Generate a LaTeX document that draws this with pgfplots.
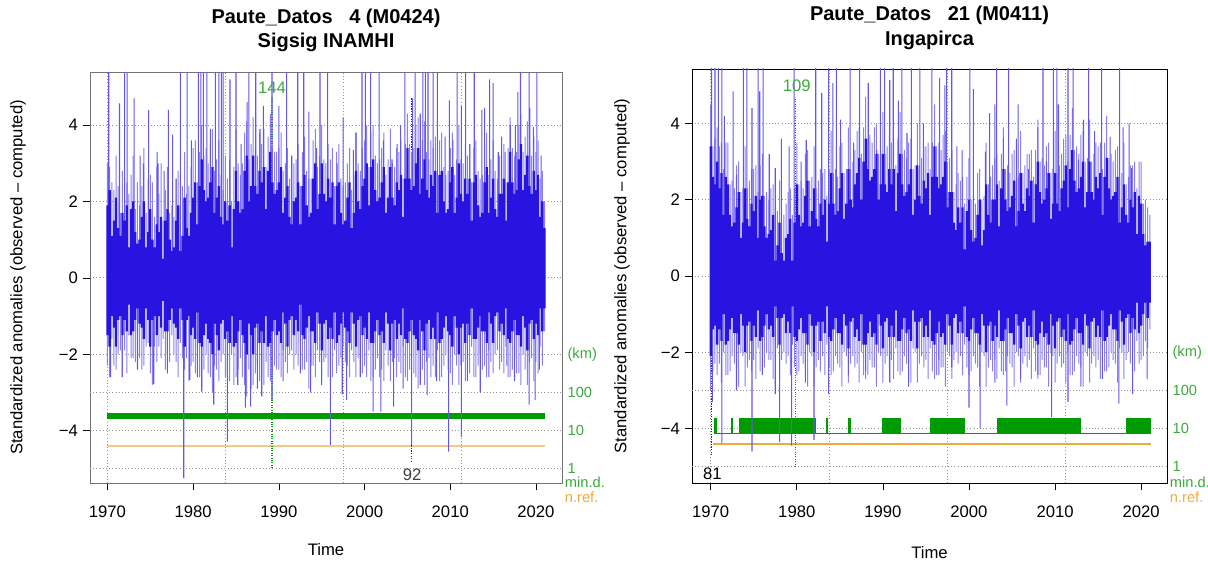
\documentclass[border=0pt]{standalone}
\usepackage{fontspec}
\setmainfont{Liberation Sans}
\usepackage{pgfplots}
\usepackage{pgfplotstable}
\pgfplotsset{compat=1.18}
\definecolor{core}{RGB}{40,20,225}
\definecolor{fringe}{RGB}{138,126,242}
\definecolor{spk}{RGB}{100,86,236}
\definecolor{grn}{RGB}{0,155,0}
\definecolor{grntxt}{RGB}{60,170,60}
\definecolor{orng}{RGB}{240,170,60}
\definecolor{orngL}{RGB}{246,200,135}

\pgfplotstableread{
x hi lo fhi flo
1970.00 1.9 -1.5 3.0 -2.3
1970.25 2.3 -1.8 2.9 -2.6
1970.50 1.1 -1.0 2.5 -1.6
1970.75 1.5 -1.3 2.3 -2.3
1971.00 2.1 -1.8 3.2 -2.4
1971.25 1.3 -1.1 2.4 -2.0
1971.50 1.1 -1.0 1.7 -1.9
1971.75 1.7 -1.5 2.8 -2.6
1972.00 1.5 -1.1 2.6 -1.9
1972.25 1.9 -1.4 2.5 -2.5
1972.50 0.8 -0.7 2.2 -1.5
1972.75 1.8 -1.5 2.7 -2.1
1973.00 2.0 -1.4 3.2 -2.1
1973.25 1.2 -1.1 1.8 -2.2
1973.50 0.9 -0.8 2.5 -1.4
1973.75 1.0 -1.2 1.9 -2.1
1974.00 1.6 -1.3 2.4 -2.4
1974.25 2.0 -1.6 3.4 -2.3
1974.50 0.8 -0.8 1.7 -1.8
1974.75 1.2 -1.1 2.6 -1.7
1975.00 1.8 -1.8 2.7 -2.5
1975.25 1.0 -1.1 2.5 -2.8
1975.50 0.8 -1.0 1.6 -1.8
1975.75 1.4 -1.5 2.9 -2.2
1976.00 1.2 -1.0 2.2 -1.8
1976.25 1.6 -1.3 3.0 -2.1
1976.50 0.5 -0.6 1.5 -1.6
1976.75 1.5 -1.4 2.3 -2.4
1977.00 1.8 -1.4 2.9 -2.0
1977.25 1.0 -1.1 1.7 -2.2
1977.50 0.7 -0.8 1.9 -1.5
1977.75 0.8 -1.2 1.6 -2.0
1978.00 1.5 -1.3 2.6 -2.2
1978.25 1.9 -1.6 2.8 -2.6
1978.50 0.7 -0.8 1.8 -1.7
1978.75 1.1 -1.1 2.4 -2.1
1979.00 2.1 -1.8 3.3 -2.4
1979.25 1.3 -1.1 2.2 -2.1
1979.50 1.1 -1.0 2.4 -2.7
1979.75 1.7 -1.5 2.9 -2.3
1980.00 2.1 -1.3 3.4 -2.2
1980.25 2.5 -1.6 3.6 -2.5
1980.50 1.4 -0.9 2.5 -1.8
1980.75 2.4 -1.7 3.3 -2.6
1981.00 3.1 -1.8 4.0 -2.9
1981.25 2.3 -1.5 3.2 -2.4
1981.50 2.0 -1.2 3.4 -2.0
1981.75 2.1 -1.6 3.0 -2.5
1982.00 2.5 -1.7 3.5 -2.6
1982.25 2.9 -2.0 3.9 -3.0
1982.50 1.7 -1.2 2.8 -2.3
1982.75 2.1 -1.5 3.1 -2.4
1983.00 2.4 -1.9 3.6 -2.7
1983.25 1.6 -1.2 2.7 -2.2
1983.50 1.4 -1.1 2.3 -2.0
1983.75 2.0 -1.6 3.2 -2.6
1984.00 1.5 -1.4 2.6 -2.5
1984.25 1.9 -1.7 3.1 -2.7
1984.50 0.8 -1.0 2.0 -2.0
1984.75 1.8 -1.8 2.9 -2.8
1985.00 2.8 -1.7 3.9 -2.6
1985.25 2.0 -1.4 3.0 -2.4
1985.50 1.7 -1.1 2.7 -2.1
1985.75 1.8 -1.5 3.0 -2.6
1986.00 2.8 -1.7 3.8 -2.8
1986.25 3.2 -2.0 4.1 -3.1
1986.50 2.0 -1.2 3.1 -2.4
1986.75 2.4 -1.5 3.5 -2.9
1987.00 3.2 -2.0 4.2 -2.8
1987.25 2.4 -1.3 3.4 -2.5
1987.50 2.2 -1.2 3.2 -2.3
1987.75 2.8 -1.7 3.8 -2.7
1988.00 2.5 -1.4 3.5 -2.6
1988.25 2.9 -1.7 3.9 -2.8
1988.50 1.8 -1.0 2.9 -2.2
1988.75 2.8 -1.8 3.7 -2.6
1989.00 3.3 -1.7 4.3 -2.7
1989.25 2.5 -1.4 3.4 -2.5
1989.50 2.2 -1.1 3.3 -2.3
1989.75 2.3 -1.5 3.3 -2.4
1990.00 2.5 -1.4 3.4 -2.4
1990.25 2.9 -1.7 3.8 -2.6
1990.50 1.7 -0.9 2.8 -1.9
1990.75 2.1 -1.2 3.0 -2.2
1991.00 2.4 -1.8 3.4 -2.5
1991.25 1.6 -1.1 2.6 -2.0
1991.50 1.4 -1.0 2.3 -1.9
1991.75 2.0 -1.5 3.0 -2.4
1992.00 2.1 -1.1 3.1 -2.0
1992.25 2.5 -1.4 3.5 -2.3
1992.50 1.4 -0.7 2.4 -1.7
1992.75 2.4 -1.5 3.3 -2.4
1993.00 2.7 -1.6 3.7 -2.4
1993.25 1.9 -1.3 2.8 -2.2
1993.50 1.6 -1.0 2.6 -2.9
1993.75 1.7 -1.4 2.6 -2.3
1994.00 2.6 -1.4 3.6 -2.3
1994.25 3.0 -1.7 3.9 -2.6
1994.50 1.8 -0.9 2.9 -1.9
1994.75 2.2 -1.2 3.2 -2.2
1995.00 3.0 -1.9 4.0 -2.7
1995.25 2.2 -1.2 3.1 -2.2
1995.50 2.0 -1.1 3.0 -2.1
1995.75 2.6 -1.6 3.5 -2.6
1996.00 2.1 -1.3 3.1 -2.4
1996.25 2.5 -1.6 3.4 -2.6
1996.50 1.4 -0.9 2.4 -1.9
1996.75 2.4 -1.7 3.3 -2.5
1997.00 2.5 -1.5 3.5 -2.3
1997.25 1.7 -1.2 2.6 -2.1
1997.50 1.4 -0.9 2.4 -1.8
1997.75 1.5 -1.3 2.5 -2.2
1998.00 2.1 -1.4 3.0 -2.3
1998.25 2.5 -1.7 3.4 -2.6
1998.50 1.3 -0.9 2.3 -1.9
1998.75 1.7 -1.2 2.7 -2.2
1999.00 2.8 -1.8 3.8 -2.6
1999.25 2.0 -1.1 3.0 -2.1
1999.50 1.8 -1.0 2.8 -2.0
1999.75 2.4 -1.5 3.4 -2.5
2000.00 2.6 -1.3 3.6 -2.3
2000.25 3.0 -1.6 4.0 -2.6
2000.50 1.9 -0.9 2.9 -1.9
2000.75 2.9 -1.7 3.8 -2.7
2001.00 3.1 -1.7 4.0 -2.6
2001.25 2.3 -1.4 3.2 -2.4
2001.50 2.0 -1.1 3.0 -2.1
2001.75 2.1 -1.5 3.1 -2.6
2002.00 2.5 -1.4 3.4 -2.4
2002.25 2.9 -1.7 3.8 -2.7
2002.50 1.7 -0.9 2.7 -1.9
2002.75 2.1 -1.2 3.1 -2.3
2003.00 2.9 -1.9 3.9 -2.7
2003.25 2.1 -1.2 3.0 -2.2
2003.50 1.9 -1.1 2.9 -2.1
2003.75 2.5 -1.6 3.4 -2.6
2004.00 2.3 -1.2 3.3 -2.2
2004.25 2.7 -1.5 3.6 -2.5
2004.50 1.6 -0.8 2.6 -1.8
2004.75 2.6 -1.6 3.5 -2.6
2005.00 3.4 -1.7 4.3 -2.7
2005.25 2.6 -1.4 3.5 -2.4
2005.50 2.3 -1.1 3.3 -2.1
2005.75 2.4 -1.5 3.4 -2.5
2006.00 3.0 -1.6 4.0 -2.6
2006.25 3.4 -1.9 4.2 -2.9
2006.50 2.2 -1.1 3.2 -2.1
2006.75 2.6 -1.4 3.6 -2.4
2007.00 3.1 -1.9 4.1 -2.8
2007.25 2.3 -1.2 3.3 -2.2
2007.50 2.1 -1.1 3.1 -2.1
2007.75 2.7 -1.6 3.6 -2.6
2008.00 2.4 -1.3 3.4 -2.3
2008.25 2.8 -1.6 3.7 -2.6
2008.50 1.7 -0.9 2.7 -1.9
2008.75 2.7 -1.7 3.6 -2.7
2009.00 2.8 -1.6 3.8 -2.6
2009.25 2.0 -1.3 2.9 -2.3
2009.50 1.7 -1.0 2.7 -2.0
2009.75 1.8 -1.4 2.8 -2.4
2010.00 2.5 -1.5 3.4 -2.5
2010.25 2.9 -1.8 3.8 -2.8
2010.50 1.7 -1.0 2.7 -2.0
2010.75 2.1 -1.3 3.1 -2.3
2011.00 3.0 -2.0 4.0 -2.8
2011.25 2.2 -1.3 3.1 -2.3
2011.50 2.0 -1.2 3.0 -2.2
2011.75 2.6 -1.7 3.5 -2.7
2012.00 2.2 -1.2 3.2 -2.2
2012.25 2.6 -1.5 3.5 -2.5
2012.50 1.5 -0.8 2.5 -1.8
2012.75 2.5 -1.6 3.4 -2.6
2013.00 2.7 -1.6 3.6 -2.6
2013.25 1.9 -1.3 2.8 -2.3
2013.50 1.6 -1.0 2.6 -2.0
2013.75 1.7 -1.4 2.7 -2.4
2014.00 2.5 -1.4 3.5 -2.3
2014.25 2.9 -1.7 3.8 -2.6
2014.50 1.7 -0.9 2.7 -1.9
2014.75 2.1 -1.2 3.1 -2.2
2015.00 2.6 -1.7 3.6 -2.5
2015.25 1.8 -1.0 2.8 -2.0
2015.50 1.6 -0.9 2.6 -1.9
2015.75 2.2 -1.4 3.2 -2.4
2016.00 2.2 -1.2 3.2 -2.2
2016.25 2.6 -1.5 3.5 -2.5
2016.50 1.5 -0.8 2.5 -1.8
2016.75 2.5 -1.6 3.4 -2.6
2017.00 3.3 -1.7 4.2 -2.6
2017.25 2.5 -1.4 3.4 -2.4
2017.50 2.2 -1.1 3.2 -2.1
2017.75 2.3 -1.5 3.3 -2.5
2018.00 3.1 -1.5 4.0 -2.5
2018.25 3.5 -1.8 4.3 -2.8
2018.50 2.3 -1.0 3.3 -2.0
2018.75 2.7 -1.3 3.7 -2.4
2019.00 3.2 -1.9 4.1 -2.8
2019.25 2.4 -1.2 3.4 -2.2
2019.50 2.2 -1.1 3.2 -2.1
2019.75 2.8 -1.6 3.7 -2.7
2020.00 2.3 -1.2 3.3 -2.2
2020.25 2.7 -1.5 3.6 -2.5
2020.50 1.6 -0.8 2.6 -1.8
2020.75 2.0 -1.4 2.8 -2.3
2021.00 1.3 -0.8 2.0 -1.4
}\coreL

\pgfplotstableread{
x y
1970.15 5.8
1972.0 5.8
1972.3 5.8
1978.5 5.8
1979.3 5.8
1980.6 5.8
1980.9 5.8
1981.2 5.8
1981.6 5.8
1982.6 5.8
1983.0 5.8
1983.3 5.8
1983.5 5.8
1985.0 5.8
1986.5 5.8
1987.3 5.8
1989.2 5.8
1990.9 5.8
1992.2 5.8
1992.9 5.8
1994.8 5.8
1995.7 5.8
1999.7 5.8
2000.1 5.8
2000.7 5.8
2001.7 5.8
2004.7 5.8
2005.9 5.8
2006.8 5.8
2007.1 5.8
2007.4 5.8
2008.0 5.8
2008.5 5.8
2010.8 5.8
2011.8 5.8
2012.8 5.8
2018.2 5.8
2019.2 5.8
2020.1 5.8
1971.4 4.57
1973.1 4.7
1974.8 4.4
1977.1 4.4
1977.6 3.75
1984.3 5.2
1986.3 4.6
1988.2 4.5
1990.0 4.5
1993.5 4.35
1994.4 3.4
1973.8 3.2
1974.2 3.0
1975.8 3.3
1975.9 3.0
1997.5 4.2
2005.6 4.7
2009.9 4.65
2011.3 4.5
2014.0 4.45
2014.6 5.2
2015.0 5.1
2017.0 4.0
2017.9 4.87
2004.2 4.0
1998.7 3.35
2002.2 3.6
2003.2 3.1
2006.5 4.3
2009.4 3.7
2012.3 3.5
2013.7 4.4
2015.6 3.3
2016.4 3.3
2017.6 4.0
2019.3 4.45
2019.7 3.95
1976.6 2.8
1978.0 2.6
1979.8 3.6
1982.0 3.9
1985.6 3.5
1987.8 3.9
1991.5 3.2
1996.8 3.0
1999.0 3.8
2003.8 3.5
2010.3 3.6
2016.0 3.7
2020.6 3.2
1970.35 -2.6
1971.7 -2.6
1975.4 -2.78
1978.9 -5.24
1979.6 -2.67
1981.0 -2.98
1982.4 -3.32
1984.0 -4.29
1986.1 -3.4
1986.7 -3.37
1988.0 -3.1
1989.2 -3.2
1993.7 -3.0
1996.0 -4.37
1997.4 -3.05
1997.9 -3.2
2001.0 -3.5
2001.9 -3.5
2003.4 -3.37
2005.5 -4.37
2007.3 -3.06
2009.8 -4.55
2011.3 -4.16
2013.5 -3.0
2016.6 -2.3
2019.2 -3.32
2019.9 -3.2
1973.5 -2.4
1977.0 -2.5
1980.5 -2.6
1985.2 -2.8
1987.5 -2.9
1990.5 -2.7
1992.5 -2.5
1995.0 -2.8
1999.5 -2.6
2004.5 -2.9
2006.5 -2.8
2008.4 -2.7
2012.0 -2.7
2014.5 -2.6
2017.5 -2.7
2020.4 -2.4
}\spkL

\pgfplotstableread{
x hi lo fhi flo
1970.00 3.4 -2.1 4.5 -3.0
1970.25 2.6 -1.4 3.4 -2.5
1970.50 2.4 -1.3 3.6 -2.3
1970.75 3.0 -1.8 3.9 -2.6
1971.00 2.3 -1.4 3.4 -2.3
1971.25 2.7 -1.7 3.5 -2.8
1971.50 1.6 -1.0 2.8 -2.0
1971.75 2.6 -1.8 3.5 -2.6
1972.00 2.4 -1.7 3.5 -2.6
1972.25 1.6 -1.4 2.4 -2.5
1972.50 1.3 -1.1 2.5 -2.1
1972.75 1.4 -1.5 2.3 -2.3
1973.00 1.8 -1.5 2.9 -2.4
1973.25 2.2 -1.8 3.0 -2.9
1973.50 1.0 -1.0 2.2 -2.0
1973.75 1.4 -1.3 2.3 -2.1
1974.00 2.3 -2.0 3.4 -2.9
1974.25 1.5 -1.3 2.3 -2.4
1974.50 1.3 -1.2 2.5 -2.2
1974.75 1.9 -1.7 2.8 -2.5
1975.00 1.7 -1.3 2.8 -2.2
1975.25 2.1 -1.6 2.9 -2.7
1975.50 1.0 -0.9 2.2 -1.9
1975.75 2.0 -1.7 2.9 -2.5
1976.00 2.1 -1.6 3.2 -2.5
1976.25 1.3 -1.3 2.1 -2.4
1976.50 1.0 -1.0 2.2 -2.0
1976.75 1.1 -1.4 2.0 -2.2
1977.00 1.2 -1.3 2.3 -2.2
1977.25 1.6 -1.6 2.4 -2.7
1977.50 0.4 -0.8 1.6 -1.8
1977.75 0.8 -1.1 1.7 -1.9
1978.00 1.4 -1.8 2.5 -2.7
1978.25 0.6 -1.1 1.4 -2.2
1978.50 0.4 -1.0 1.6 -2.0
1978.75 1.0 -1.5 1.9 -2.3
1979.00 1.1 -1.2 2.2 -2.1
1979.25 1.5 -1.5 2.3 -2.6
1979.50 0.4 -0.8 1.6 -1.8
1979.75 1.4 -1.6 2.3 -2.4
1980.00 2.4 -1.7 3.5 -2.6
1980.25 1.6 -1.4 2.4 -2.5
1980.50 1.3 -1.1 2.5 -2.1
1980.75 1.4 -1.5 2.3 -2.3
1981.00 2.1 -1.5 3.2 -2.4
1981.25 2.5 -1.8 3.3 -2.9
1981.50 1.3 -1.0 2.5 -2.0
1981.75 1.7 -1.3 2.6 -2.1
1982.00 2.3 -2.0 3.4 -2.9
1982.25 1.5 -1.3 2.3 -2.4
1982.50 1.3 -1.2 2.5 -2.2
1982.75 1.9 -1.7 2.8 -2.5
1983.00 1.6 -1.2 2.7 -2.1
1983.25 2.0 -1.5 2.8 -2.6
1983.50 0.9 -0.8 2.1 -1.8
1983.75 1.9 -1.6 2.8 -2.4
1984.00 2.7 -1.7 3.8 -2.6
1984.25 1.9 -1.4 2.7 -2.5
1984.50 1.6 -1.1 2.8 -2.1
1984.75 1.7 -1.5 2.6 -2.3
1985.00 2.3 -1.5 3.4 -2.4
1985.25 2.7 -1.8 3.5 -2.9
1985.50 1.5 -1.0 2.7 -2.0
1985.75 1.9 -1.3 2.8 -2.1
1986.00 2.8 -1.9 3.9 -2.8
1986.25 2.0 -1.2 2.8 -2.3
1986.50 1.8 -1.1 3.0 -2.1
1986.75 2.4 -1.6 3.3 -2.4
1987.00 2.7 -1.4 3.8 -2.3
1987.25 3.1 -1.7 3.9 -2.8
1987.50 2.0 -1.0 3.2 -2.0
1987.75 3.0 -1.8 3.9 -2.6
1988.00 3.6 -1.8 4.7 -2.7
1988.25 2.8 -1.5 3.6 -2.6
1988.50 2.5 -1.2 3.7 -2.2
1988.75 2.6 -1.6 3.5 -2.4
1989.00 2.8 -1.5 3.9 -2.4
1989.25 3.2 -1.8 4.0 -2.9
1989.50 2.0 -1.0 3.2 -2.0
1989.75 2.4 -1.3 3.3 -2.1
1990.00 3.2 -1.9 4.3 -2.8
1990.25 2.4 -1.2 3.2 -2.3
1990.50 2.2 -1.1 3.4 -2.1
1990.75 2.8 -1.6 3.7 -2.4
1991.00 2.4 -1.3 3.5 -2.2
1991.25 2.8 -1.6 3.6 -2.7
1991.50 1.7 -0.9 2.9 -1.9
1991.75 2.7 -1.7 3.6 -2.5
1992.00 3.2 -1.7 4.3 -2.6
1992.25 2.4 -1.4 3.2 -2.5
1992.50 2.1 -1.1 3.3 -2.1
1992.75 2.2 -1.5 3.1 -2.3
1993.00 2.4 -1.4 3.5 -2.3
1993.25 2.8 -1.7 3.6 -2.8
1993.50 1.6 -0.9 2.8 -1.9
1993.75 2.0 -1.2 2.9 -2.0
1994.00 2.9 -1.9 4.0 -2.8
1994.25 2.1 -1.2 2.9 -2.3
1994.50 1.9 -1.1 3.1 -2.1
1994.75 2.5 -1.6 3.4 -2.4
1995.00 2.3 -1.3 3.4 -2.2
1995.25 2.7 -1.6 3.5 -2.7
1995.50 1.6 -0.9 2.8 -1.9
1995.75 2.6 -1.7 3.5 -2.5
1996.00 3.4 -1.8 4.5 -2.7
1996.25 2.6 -1.5 3.4 -2.6
1996.50 2.3 -1.2 3.5 -2.2
1996.75 2.4 -1.6 3.3 -2.4
1997.00 2.6 -1.5 3.7 -2.4
1997.25 3.0 -1.8 3.8 -2.9
1997.50 1.8 -1.0 3.0 -2.0
1997.75 2.2 -1.3 3.1 -2.1
1998.00 2.2 -1.8 3.3 -2.7
1998.25 1.4 -1.1 2.2 -2.2
1998.50 1.2 -1.0 2.4 -2.0
1998.75 1.8 -1.5 2.7 -2.3
1999.00 1.4 -1.2 2.5 -2.1
1999.25 1.8 -1.5 2.6 -2.6
1999.50 0.7 -0.8 1.9 -1.8
1999.75 1.7 -1.6 2.6 -2.4
2000.00 2.0 -1.7 3.1 -2.6
2000.25 1.2 -1.4 2.0 -2.5
2000.50 0.9 -1.1 2.1 -2.1
2000.75 1.0 -1.5 1.9 -2.3
2001.00 1.6 -1.5 2.7 -2.4
2001.25 2.0 -1.8 2.8 -2.9
2001.50 0.8 -1.0 2.0 -2.0
2001.75 1.2 -1.3 2.1 -2.1
2002.00 2.4 -2.0 3.5 -2.9
2002.25 1.6 -1.3 2.4 -2.4
2002.50 1.4 -1.2 2.6 -2.2
2002.75 2.0 -1.7 2.9 -2.5
2003.00 2.0 -1.3 3.1 -2.2
2003.25 2.4 -1.6 3.2 -2.7
2003.50 1.3 -0.9 2.5 -1.9
2003.75 2.3 -1.7 3.2 -2.5
2004.00 2.8 -1.7 3.9 -2.6
2004.25 2.0 -1.4 2.8 -2.5
2004.50 1.7 -1.1 2.9 -2.1
2004.75 1.8 -1.5 2.7 -2.3
2005.00 2.1 -1.5 3.2 -2.4
2005.25 2.5 -1.8 3.3 -2.9
2005.50 1.3 -1.0 2.5 -2.0
2005.75 1.7 -1.3 2.6 -2.1
2006.00 2.7 -1.9 3.8 -2.8
2006.25 1.9 -1.2 2.7 -2.3
2006.50 1.7 -1.1 2.9 -2.1
2006.75 2.3 -1.6 3.2 -2.4
2007.00 2.1 -1.3 3.2 -2.2
2007.25 2.5 -1.6 3.3 -2.7
2007.50 1.4 -0.9 2.6 -1.9
2007.75 2.4 -1.7 3.3 -2.5
2008.00 3.0 -1.8 4.1 -2.7
2008.25 2.2 -1.5 3.0 -2.6
2008.50 1.9 -1.2 3.1 -2.2
2008.75 2.0 -1.6 2.9 -2.4
2009.00 2.3 -1.5 3.4 -2.4
2009.25 2.7 -1.8 3.5 -2.9
2009.50 1.5 -1.0 2.7 -2.0
2009.75 1.9 -1.3 2.8 -2.1
2010.00 2.7 -1.9 3.8 -2.8
2010.25 1.9 -1.2 2.7 -2.3
2010.50 1.7 -1.1 2.9 -2.1
2010.75 2.3 -1.6 3.2 -2.4
2011.00 2.5 -1.4 3.6 -2.3
2011.25 2.9 -1.7 3.7 -2.8
2011.50 1.8 -1.0 3.0 -2.0
2011.75 2.8 -1.8 3.7 -2.6
2012.00 3.3 -1.7 4.4 -2.6
2012.25 2.5 -1.4 3.3 -2.5
2012.50 2.2 -1.1 3.4 -2.1
2012.75 2.3 -1.5 3.2 -2.3
2013.00 2.6 -1.5 3.7 -2.4
2013.25 3.0 -1.8 3.8 -2.9
2013.50 1.8 -1.0 3.0 -2.0
2013.75 2.2 -1.3 3.1 -2.1
2014.00 3.0 -1.9 4.1 -2.8
2014.25 2.2 -1.2 3.0 -2.3
2014.50 2.0 -1.1 3.2 -2.1
2014.75 2.6 -1.6 3.5 -2.4
2015.00 2.3 -1.3 3.4 -2.2
2015.25 2.7 -1.6 3.5 -2.7
2015.50 1.6 -0.9 2.8 -1.9
2015.75 2.6 -1.7 3.5 -2.5
2016.00 3.1 -1.6 4.2 -2.5
2016.25 2.3 -1.3 3.1 -2.4
2016.50 2.0 -1.0 3.2 -2.0
2016.75 2.1 -1.4 3.0 -2.2
2017.00 2.2 -1.4 3.3 -2.3
2017.25 2.6 -1.7 3.4 -2.8
2017.50 1.4 -0.9 2.6 -1.9
2017.75 1.8 -1.2 2.7 -2.0
2018.00 2.4 -1.8 3.5 -2.7
2018.25 1.6 -1.1 2.4 -2.2
2018.50 1.4 -1.0 2.6 -2.0
2018.75 2.0 -1.5 2.9 -2.3
2019.00 1.8 -1.1 2.9 -2.0
2019.25 2.2 -1.4 3.0 -2.5
2019.50 1.1 -0.7 2.3 -1.7
2019.75 2.1 -1.5 3.0 -2.3
2020.00 1.9 -1.3 3.0 -2.2
2020.25 1.1 -1.0 1.9 -2.1
2020.50 0.8 -0.7 2.0 -1.7
2020.75 0.9 -1.1 1.8 -1.9
2021.00 0.9 -0.7 1.6 -1.4
}\coreR

\pgfplotstableread{
x y
1970.1 5.8
1970.5 5.8
1970.9 5.8
1971.3 5.8
1973.8 5.8
1974.2 5.8
1975.5 5.8
1976.1 5.8
1979.7 5.8
1982.2 5.8
1983.7 5.8
1984.6 5.8
1986.2 5.8
1987.3 5.8
1989.7 5.8
1990.2 5.8
1991.2 5.8
1992.2 5.8
1993.3 5.8
1994.3 5.8
1995.7 5.8
1997.4 5.8
1998.0 5.8
2000.1 5.8
2003.2 5.8
2004.6 5.8
2008.6 5.8
2009.8 5.8
2010.2 5.8
2011.5 5.8
2012.1 5.8
2013.9 5.8
2015.4 5.8
2017.5 5.8
1972.6 4.84
1973.0 2.65
1974.8 4.4
1975.7 4.84
1977.5 2.83
1978.2 3.6
1979.1 3.4
1981.1 3.57
1982.9 4.8
1984.2 5.06
1985.1 4.1
1986.6 3.5
1988.3 5.06
1989.3 3.3
1990.8 5.14
1991.8 4.6
1992.8 3.75
1994.7 4.0
1996.6 5.2
1997.2 5.0
1998.6 3.4
1999.2 3.3
2000.5 4.9
2001.9 3.26
2002.4 4.27
2003.0 4.5
2004.0 3.6
2005.5 3.6
2005.7 4.5
2006.9 2.8
2008.0 3.9
2009.0 3.0
2010.4 4.5
2012.7 3.05
2013.3 4.1
2014.6 3.8
2016.4 3.65
2017.9 3.9
2018.6 4.0
2018.9 2.83
1971.6 4.2
1976.8 3.2
1980.5 3.0
1970.2 -3.3
1971.3 -4.4
1973.0 -3.0
1974.8 -4.6
1976.0 -2.6
1977.5 -3.1
1978.0 -4.35
1979.4 -4.45
1981.0 -2.8
1982.0 -4.3
1983.7 -3.1
1986.0 -2.6
1988.0 -2.5
1990.8 -2.8
1993.0 -2.9
1996.5 -2.6
1998.0 -2.4
2000.0 -3.45
2001.3 -4.0
2003.0 -2.8
2004.4 -3.4
2006.0 -2.7
2008.0 -2.6
2009.6 -3.7
2011.5 -3.3
2013.0 -2.9
2015.5 -2.7
2017.4 -3.35
2019.0 -3.1
2020.7 -2.7
}\spkR

\newcommand{\tf}{\fontsize{12.5}{15}\selectfont}
\newcommand{\kf}{\fontsize{11}{13}\selectfont}

\pgfplotsset{
 hom/.style={
  scale only axis, clip mode=individual,
  xtick={1970,1980,1990,2000,2010,2020},
  xticklabels={1970,1980,1990,2000,2010,2020},
  ytick={-4,-2,0,2,4},
  yticklabels={−4,−2,0,2,4},
  xtick pos=lower, ytick pos=left, tick align=outside,
  major tick length=5.5pt,
  tick style={black, line width=0.5pt},
  ymajorgrids=true,
  extra x ticks={1970,1983.75,1997.5,2011.25},
  extra x tick labels={},
  extra x tick style={grid=major, major tick length=0pt},
  extra y ticks={-5,-3},
  extra y tick labels={},
  extra y tick style={grid=major, major tick length=0pt},
  grid style={dotted, gray!85, line width=0.6pt},
  ticklabel style={font=\tf},
  xticklabel style={yshift=-8pt},
  axis line style={line width=0.6pt},
 },
 core/.style={ybar, bar shift=0pt, bar width=0.27, fill=core, draw=none},
 fr/.style={ybar, bar shift=0pt, bar width=0.75pt, fill=fringe, draw=none},
 sp/.style={ybar, bar shift=0pt, bar width=0.8pt, fill=spk, draw=none},
}

\begin{document}
\begin{tikzpicture}
\path[use as bounding box] (0,0) rectangle (906pt,425.25pt);
% ---------------- left panel
\begin{axis}[hom, at={(67.5pt,63pt)}, anchor=south west,
  width=354pt, height=308.25pt,
  xmin=1967.96, xmax=2023.04, ymin=-5.37, ymax=5.39,
  axis line style={black!55}]
\addplot[grn, line width=4.5pt] coordinates {(1970.0,-3.61) (2021.0,-3.61)};
\addplot[orngL, line width=1.5pt] coordinates {(1970.0,-4.40) (2021.0,-4.40)};
\addplot[grn, densely dotted, line width=0.8pt] coordinates {(1989.2,4.72) (1989.2,-4.97)};
\addplot[black!80, densely dotted, line width=0.9pt] coordinates {(2005.5,4.7) (2005.5,-4.85)};
\addplot[fr] table[x=x,y=fhi] {\coreL};
\addplot[fr] table[x=x,y=flo] {\coreL};
\addplot[sp] table[x=x,y=y] {\spkL};
\addplot[core] table[x=x,y=hi] {\coreL};
\addplot[core] table[x=x,y=lo] {\coreL};
\node[text=grntxt, font=\tf] at (axis cs:1989.2,4.97) {144};
\node[text=black!75, font=\tf] at (axis cs:2005.55,-5.16) {92};
\node[font=\fontsize{15}{18}\selectfont\bfseries] at (axis description cs:0.5,1.131) {Paute\_Datos\ \ \ 4 (M0424)};
\node[font=\fontsize{15}{18}\selectfont\bfseries] at (axis description cs:0.5,1.073) {Sigsig INAMHI};
\node[rotate=90, font=\tf] at (axis description cs:-0.1525,0.5) {Standardized anomalies (observed – computed)};
\node[font=\tf] at (axis description cs:0.5,-0.163) {Time};
\node[anchor=west, text=grntxt, font=\kf, inner sep=0pt] at (axis cs:2023.04,-2) {\hspace{4pt}(km)};
\node[anchor=west, text=grntxt, font=\kf, inner sep=0pt] at (axis cs:2023.04,-3) {\hspace{4pt}100};
\node[anchor=west, text=grntxt, font=\kf, inner sep=0pt] at (axis cs:2023.04,-4) {\hspace{4pt}10};
\node[anchor=west, text=grntxt, font=\kf, inner sep=0pt] at (axis cs:2023.04,-5) {\hspace{4pt}1};
\node[anchor=west, text=grntxt, font=\kf, inner sep=0pt] at (axis cs:2023.04,-5.36) {\hspace{2pt}min.d.};
\node[anchor=west, text=orng, font=\kf, inner sep=0pt] at (axis cs:2023.04,-5.75) {\hspace{2pt}n.ref.};
\end{axis}
% ---------------- right panel
\begin{axis}[hom, at={(519pt,63pt)}, anchor=south west,
  width=356.25pt, height=310.5pt,
  xmin=1967.83, xmax=2023.0, ymin=-5.43, ymax=5.43]
\addplot[fill=grn, draw=grn, line width=0.8pt] coordinates {
(1970.45,-4.12) (1970.45,-3.75) (1970.62,-3.75) (1970.62,-4.12)
(1972.42,-4.12) (1972.42,-3.75) (1972.58,-3.75) (1972.58,-4.12)
(1973.3,-4.12) (1973.3,-3.75) (1982.2,-3.75) (1982.2,-4.12)
(1983.42,-4.12) (1983.42,-3.75) (1983.58,-3.75) (1983.58,-4.12)
(1986.02,-4.12) (1986.02,-3.75) (1986.18,-3.75) (1986.18,-4.12)
(1990.0,-4.12) (1990.0,-3.75) (1992.0,-3.75) (1992.0,-4.12)
(1995.5,-4.12) (1995.5,-3.75) (1999.5,-3.75) (1999.5,-4.12)
(2003.3,-4.12) (2003.3,-3.75) (2013.0,-3.75) (2013.0,-4.12)
(2018.3,-4.12) (2018.3,-3.75) (2021.1,-3.75) (2021.1,-4.12)} -- cycle;
\addplot[orng, line width=1.3pt] coordinates {(1970.3,-4.41) (2021.1,-4.41)};
\addplot[grn, densely dotted, line width=0.8pt] coordinates {(1979.8,4.65) (1979.8,-5.0)};
\addplot[black!80, densely dotted, line width=0.9pt] coordinates {(1970.1,5.43) (1970.1,-4.7)};
\addplot[fr] table[x=x,y=fhi] {\coreR};
\addplot[fr] table[x=x,y=flo] {\coreR};
\addplot[sp] table[x=x,y=y] {\spkR};
\addplot[core] table[x=x,y=hi] {\coreR};
\addplot[core] table[x=x,y=lo] {\coreR};
\node[text=grntxt, font=\tf] at (axis cs:1980.0,5.0) {109};
\node[text=black, font=\tf] at (axis cs:1970.2,-5.2) {81};
\node[font=\fontsize{15}{18}\selectfont\bfseries] at (axis description cs:0.5,1.130) {Paute\_Datos\ \ \ 21 (M0411)};
\node[font=\fontsize{15}{18}\selectfont\bfseries] at (axis description cs:0.5,1.070) {Ingapirca};
\node[rotate=90, font=\tf] at (axis description cs:-0.147,0.5) {Standardized anomalies (observed – computed)};
\node[font=\tf] at (axis description cs:0.5,-0.167) {Time};
\node[anchor=west, text=grntxt, font=\kf, inner sep=0pt] at (axis cs:2023.0,-2) {\hspace{4pt}(km)};
\node[anchor=west, text=grntxt, font=\kf, inner sep=0pt] at (axis cs:2023.0,-3) {\hspace{4pt}100};
\node[anchor=west, text=grntxt, font=\kf, inner sep=0pt] at (axis cs:2023.0,-4) {\hspace{4pt}10};
\node[anchor=west, text=grntxt, font=\kf, inner sep=0pt] at (axis cs:2023.0,-5) {\hspace{4pt}1};
\node[anchor=west, text=grntxt, font=\kf, inner sep=0pt] at (axis cs:2023.0,-5.40) {\hspace{2pt}min.d.};
\node[anchor=west, text=orng, font=\kf, inner sep=0pt] at (axis cs:2023.0,-5.80) {\hspace{2pt}n.ref.};
\end{axis}
\end{tikzpicture}
\end{document}
